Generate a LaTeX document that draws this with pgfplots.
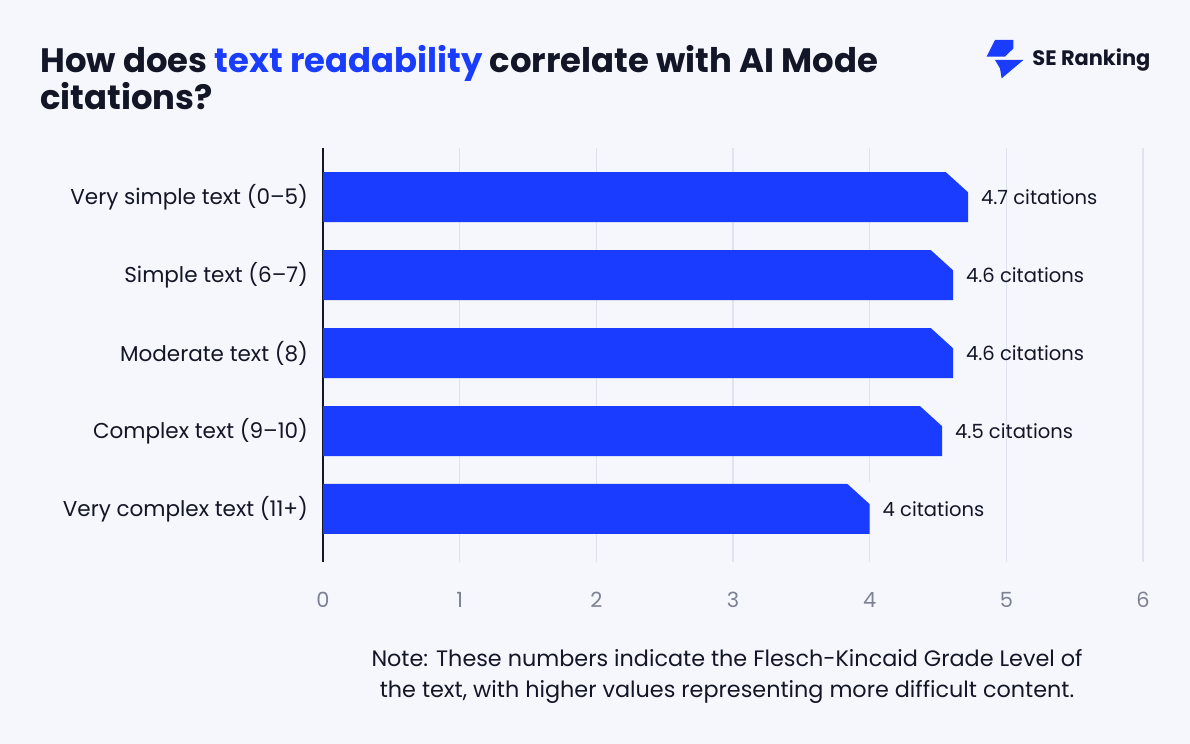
\documentclass[border=0pt]{standalone}
\usepackage{fontspec}
\setmainfont{Poppins}
\usepackage{pgfplots}
\pgfplotsset{compat=1.18}

\definecolor{bgcol}{HTML}{F6F7FC}
\definecolor{brand}{HTML}{1A3CFF}
\definecolor{ink}{HTML}{121626}
\definecolor{gridcol}{HTML}{DEE3EE}
\definecolor{tickgrey}{HTML}{7C8293}

% cut-off top right corner of each bar, painted in the background colour
\pgfdeclareplotmark{chamfer}{%
  \pgfpathmoveto{\pgfpoint{-12.1bp}{13.5bp}}%
  \pgfpathlineto{\pgfpoint{1bp}{13.5bp}}%
  \pgfpathlineto{\pgfpoint{1bp}{1.6bp}}%
  \pgfpathclose
  \pgfusepathqfill}

\begin{document}
\begin{tikzpicture}
\fill[bgcol] (0,0) rectangle (595bp,372bp);
\path[use as bounding box] (0,0) rectangle (595bp,372bp);

\begin{axis}[
    at={(161.5bp,91bp)}, anchor=south west,
    scale only axis, width=410bp, height=207bp,
    xmin=0, xmax=6, ymin=-0.68, ymax=4.63,
    /pgf/number format/assume math mode=true,
    axis line style={draw=none},
    major tick length=0pt,
    xtick={1,...,6},
    extra x ticks={0},
    extra x tick style={grid style={ink, line width=0.9bp}},
    xmajorgrids,
    grid style={gridcol, line width=0.8bp},
    xticklabel style={font=\fontsize{10.5}{12}\selectfont, text=tickgrey, anchor=base, yshift=-23bp},
    ytick={0,...,4},
    yticklabels={Very complex text (11+), Complex text (9–10), Moderate text (8), Simple text (6–7), Very simple text (0–5)},
    yticklabel style={font=\fontsize{10.8}{12}\selectfont, text=ink, anchor=east, xshift=-4bp},
    clip=false,
]
\addplot[xbar, bar width=25bp, fill=brand, draw=none, point meta=x,
    nodes near coords={\pgfmathprintnumber[fixed, precision=1]{\pgfplotspointmeta} citations},
    every node near coord/.append style={font=\fontsize{9.8}{11}\selectfont, text=ink, anchor=west, xshift=3bp}]
    coordinates {(4.72,4) (4.61,3) (4.61,2) (4.53,1) (4.0,0)};
\addplot[only marks, mark=chamfer, mark options={fill=bgcol, draw=none}]
    coordinates {(4.72,4) (4.61,3) (4.61,2) (4.53,1) (4.0,0)};
\end{axis}

\node[anchor=base west, inner sep=0pt, text=ink, font=\bfseries\fontsize{17}{20}\selectfont]
  at (20bp,335.5bp) {How does \textcolor{brand}{text readability} correlate with AI Mode};
\node[anchor=base west, inner sep=0pt, text=ink, font=\bfseries\fontsize{17}{20}\selectfont]
  at (20bp,317bp) {citations?};

% logo
\fill[brand] (497.5bp,352bp) -- (506.7bp,352bp) -- (506.7bp,347.8bp) -- (502.5bp,343.7bp) -- (493.3bp,343.7bp) -- cycle;
\fill[brand] (497.5bp,342bp) -- (511.7bp,342bp) -- (500.8bp,332.8bp) -- (500bp,337.8bp) -- cycle;
\node[anchor=base west, inner sep=0pt, text=ink, font=\bfseries\fontsize{10.5}{12}\selectfont]
  at (516bp,339bp) {SE Ranking};

\node[inner sep=0pt, text=ink, font=\fontsize{11.2}{13}\selectfont, anchor=base]
  at (363.5bp,39bp) {Note: These numbers indicate the Flesch-Kincaid Grade Level of};
\node[inner sep=0pt, text=ink, font=\fontsize{11.2}{13}\selectfont, anchor=base]
  at (363.5bp,23.5bp) {the text, with higher values representing more difficult content.};
\end{tikzpicture}
\end{document}
